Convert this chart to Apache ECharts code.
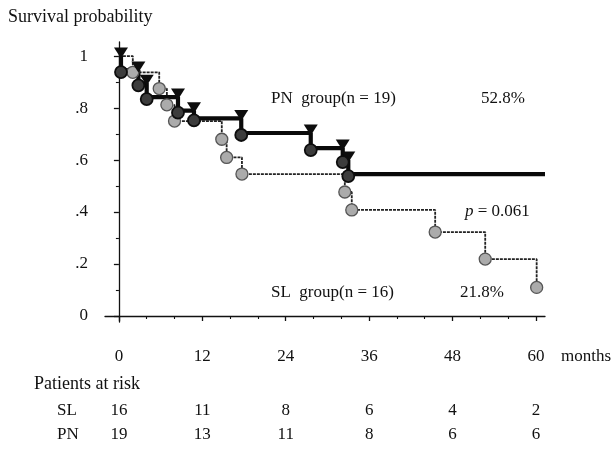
<!DOCTYPE html>
<html>
<head>
<meta charset="utf-8">
<script src="https://cdn.jsdelivr.net/npm/echarts@6/dist/echarts.min.js"></script>
<style>
html, body { margin: 0; padding: 0; background: #fff; }
#chart { width: 613px; height: 454px; }
</style>
</head>
<body>
<div id="chart"></div>
<script>
// Kaplan-Meier steps: month of each drop, probability after it
const pnTimes = [0.3, 2.8, 4.0, 8.5, 10.8, 17.6, 27.6, 32.2, 33.0];
const pnSurv = [0.946, 0.895, 0.842, 0.79, 0.76, 0.704, 0.646, 0.60, 0.546];
const pnLast = 61.3; // PN curve runs on to the end of the axis
const slTimes = [2.0, 5.8, 6.9, 8.0, 14.8, 15.5, 17.7, 32.5, 33.5, 45.5, 52.7, 60.1];
const slSurv = [0.9375, 0.875, 0.8125, 0.75, 0.68, 0.61, 0.546, 0.477, 0.408, 0.323, 0.219, 0.11];

// axes
const monthTicks = [0, 12, 24, 36, 48, 60];
const monthMinor = [4, 8, 16, 20, 28, 32, 40, 44, 52, 56];
const probTicks = [0, 0.2, 0.4, 0.6, 0.8, 1];
const probLabels = ['0', '.2', '.4', '.6', '.8', '1'];
const probMinor = [0.1, 0.3, 0.5, 0.7, 0.9];

// patients at risk table
const riskSL = [16, 11, 8, 6, 4, 2];
const riskPN = [19, 13, 11, 8, 6, 6];

const FONT = '"Liberation Serif", "Times New Roman", serif';
const INK = '#111';

// step path: flat until the drop, then straight down
function steps(times, surv, last) {
  var pts = [[0, 1]];
  var prev = 1;
  for (let i = 0; i < times.length; i++) {
    pts.push([times[i], prev]);
    pts.push([times[i], surv[i]]);
    prev = surv[i];
  }
  if (last != null) pts.push([last, prev]);
  return pts;
}
function tops(times, surv) {
  return times.map((t, i) => [t, i === 0 ? 1 : surv[i - 1]]);
}
function bottoms(times, surv) {
  return times.map((t, i) => [t, surv[i]]);
}
function pick(arr) {
  return function (v) {
    var i = monthTicks.indexOf(Math.round(v));
    return i < 0 ? '' : String(arr[i]);
  };
}

const labelFont = { fontFamily: FONT, fontSize: 17, color: INK };

function txt(x, y, s, size) {
  return { type: 'text', x: x, y: y, style: { text: s, font: (size || 17) + 'px ' + FONT, fill: INK, verticalAlign: 'middle' } };
}

const options = {
  animation: false,
  backgroundColor: '#fff',
  grid: { left: 105, top: 42, width: 440, height: 280, containLabel: false, outerBoundsMode: 'none' },
  xAxis: [
    {
      type: 'value', position: 'bottom', min: -2, max: 61.3, offset: 9,
      splitLine: { show: false },
      axisLine: { lineStyle: { color: INK, width: 1.3 } },
      axisTick: { customValues: monthTicks, length: 5, lineStyle: { color: INK, width: 1.3 } },
      axisLabel: Object.assign({ customValues: monthTicks, margin: 17 }, labelFont)
    },
    {
      type: 'value', position: 'bottom', min: -2, max: 61.3, offset: 9,
      splitLine: { show: false },
      axisLine: { show: false },
      axisTick: { customValues: monthMinor, length: 3, lineStyle: { color: INK, width: 1.1 } },
      axisLabel: { show: false }
    },
    {
      type: 'value', position: 'bottom', min: -2, max: 61.3, offset: 74,
      splitLine: { show: false },
      axisLine: { show: false },
      axisTick: { show: false },
      axisLabel: Object.assign({ customValues: monthTicks, margin: 6, formatter: pick(riskSL) }, labelFont)
    },
    {
      type: 'value', position: 'bottom', min: -2, max: 61.3, offset: 98,
      splitLine: { show: false },
      axisLine: { show: false },
      axisTick: { show: false },
      axisLabel: Object.assign({ customValues: monthTicks, margin: 6, formatter: pick(riskPN) }, labelFont)
    }
  ],
  yAxis: [
    {
      type: 'value', position: 'left', min: -0.023, max: 1.054, offset: 8,
      splitLine: { show: false },
      axisLine: { show: true, lineStyle: { color: INK, width: 1.3 } },
      axisTick: { show: true, customValues: probTicks, length: 5, lineStyle: { color: INK, width: 1.3 } },
      axisLabel: Object.assign({
        customValues: probTicks, margin: 9,
        formatter: function (v) {
          var i = probTicks.findIndex(p => Math.abs(p - v) < 1e-6);
          return i < 0 ? '' : probLabels[i];
        }
      }, labelFont)
    },
    {
      type: 'value', position: 'left', min: -0.023, max: 1.054, offset: 8,
      splitLine: { show: false },
      axisLine: { show: false },
      axisTick: { show: true, customValues: probMinor, length: 3, lineStyle: { color: INK, width: 1.1 } },
      axisLabel: { show: false }
    }
  ],
  series: [
    {
      name: 'SL', type: 'line', data: steps(slTimes, slSurv, null),
      showSymbol: false, symbol: 'none', z: 2,
      lineStyle: { color: '#222', width: 1.8, type: [3, 1] }
    },
    {
      name: 'PN', type: 'line', data: steps(pnTimes, pnSurv, pnLast),
      showSymbol: false, symbol: 'none', z: 3,
      lineStyle: { color: '#0a0a0a', width: 4.2 }
    },
    {
      name: 'SL events', type: 'scatter', data: bottoms(slTimes, slSurv), z: 4,
      symbol: 'circle', symbolSize: 12,
      itemStyle: { color: '#ababab', borderColor: '#555', borderWidth: 1.3, opacity: 1 }
    },
    {
      name: 'PN tops', type: 'scatter', data: tops(pnTimes, pnSurv), z: 5,
      symbol: 'triangle', symbolRotate: 180, symbolSize: [14, 11], symbolOffset: [0, -3],
      itemStyle: { color: '#0d0d0d', opacity: 1 }
    },
    {
      name: 'PN events', type: 'scatter', data: bottoms(pnTimes, pnSurv), z: 5,
      symbol: 'circle', symbolSize: 12, symbolOffset: [0, 2],
      itemStyle: { color: '#3c3c3c', borderColor: '#0d0d0d', borderWidth: 1.8, opacity: 1 }
    }
  ],
  graphic: [
    txt(8, 17, 'Survival probability', 18),
    txt(561, 357, 'months'),
    txt(271, 99, 'PN  group(n = 19)'),
    txt(481, 99, '52.8%'),
    { type: 'text', x: 465, y: 212, style: {
        text: '{i|p} = 0.061', font: '17px ' + FONT, fill: INK, verticalAlign: 'middle',
        rich: { i: { fontStyle: 'italic', fontFamily: FONT, fontSize: 17 } }
      } },
    txt(271, 293, 'SL  group(n = 16)'),
    txt(460, 293, '21.8%'),
    txt(34, 384, 'Patients at risk', 18),
    txt(57, 411, 'SL'),
    txt(57, 435, 'PN')
  ]
};

var thisChart = echarts.init(document.getElementById('chart'), null, { renderer: 'canvas' });
thisChart.setOption(options);
</script>
</body>
</html>
